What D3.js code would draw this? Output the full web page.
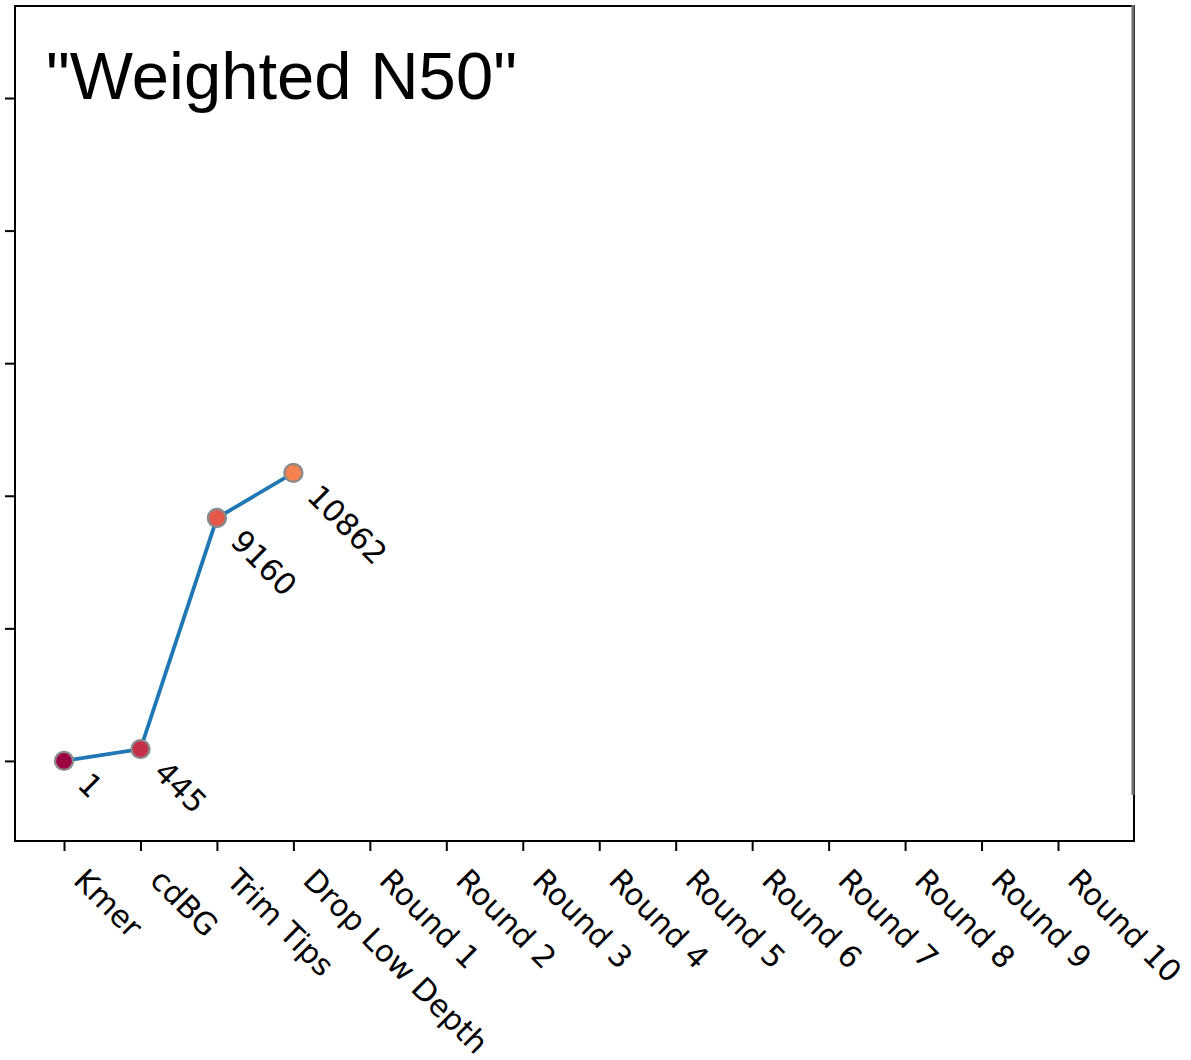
<!DOCTYPE html>
<html>
<head>
<meta charset="utf-8">
<script src="https://cdn.jsdelivr.net/npm/d3@7"></script>
<style>
  html, body { margin: 0; padding: 0; background: #ffffff; }
  svg { display: block; }
</style>
</head>
<body>
<svg id="chart" width="1191" height="1060"></svg>
<script>
// Pipeline stages along the x axis
const categories = ["Kmer", "cdBG", "Trim Tips", "Drop Low Depth",
  "Round 1", "Round 2", "Round 3", "Round 4", "Round 5",
  "Round 6", "Round 7", "Round 8", "Round 9", "Round 10"];
// Weighted N50 per stage (only the first four stages have values)
const n50Values = [1, 445, 9160, 10862];
// Y tick positions
const yTickValues = [0, 5000, 10000, 15000, 20000, 25000];

const W = 1191, H = 1060;
const plot = { left: 15, right: 1134, top: 6, bottom: 841 };

const svg = d3.select("#chart");
svg.append("rect").attr("width", W).attr("height", H).attr("fill", "#ffffff");

const x = d3.scalePoint().domain(categories).range([64, 1058]);
const y = d3.scaleLinear().domain([-3020, 28470]).range([plot.bottom, plot.top]);

// Y axis ticks (labels fall outside the visible area)
const yAxis = svg.append("g")
  .attr("transform", `translate(${plot.left},0)`)
  .call(d3.axisLeft(y).tickValues(yTickValues).tickSize(10).tickSizeOuter(0).tickFormat(""));
yAxis.select(".domain").remove();
yAxis.selectAll(".tick line").attr("stroke", "#000").attr("stroke-width", 2);

// X axis ticks with rotated labels
const xAxis = svg.append("g")
  .attr("transform", `translate(0,${plot.bottom})`)
  .call(d3.axisBottom(x).tickSize(10).tickSizeOuter(0).tickFormat(""));
xAxis.select(".domain").remove();
xAxis.selectAll(".tick line").attr("stroke", "#000").attr("stroke-width", 2);

svg.append("g").selectAll("text")
  .data(categories)
  .join("text")
  .attr("transform", d => `translate(${x(d) + 8},882) rotate(45)`)
  .attr("font-family", "DejaVu Sans, sans-serif")
  .attr("font-size", 30.5)
  .attr("fill", "#000")
  .text(d => d);

// Plot frame
svg.append("rect")
  .attr("x", plot.left).attr("y", plot.top)
  .attr("width", plot.right - plot.left).attr("height", plot.bottom - plot.top)
  .attr("fill", "none").attr("stroke", "#000").attr("stroke-width", 2);
// Grey overlay on the right edge
svg.append("line")
  .attr("x1", plot.right - 1).attr("x2", plot.right - 1)
  .attr("y1", plot.top - 1).attr("y2", 795)
  .attr("stroke", "#6e6e6e").attr("stroke-width", 3);

// Series
const pts = n50Values.map((v, i) => ({ cat: categories[i], v, i }));
const color = i => d3.interpolateSpectral(i / (categories.length - 1));

svg.append("path")
  .datum(pts)
  .attr("fill", "none")
  .attr("stroke", "#1f77b4")
  .attr("stroke-width", 3.8)
  .attr("d", d3.line().x(d => x(d.cat)).y(d => y(d.v)));

svg.append("g").selectAll("circle")
  .data(pts)
  .join("circle")
  .attr("cx", d => x(d.cat))
  .attr("cy", d => y(d.v))
  .attr("r", 9)
  .attr("fill", d => color(d.i))
  .attr("stroke", "#8a8a8a")
  .attr("stroke-width", 2.4);

svg.append("g").selectAll("text")
  .data(pts)
  .join("text")
  .attr("transform", d => `translate(${x(d.cat) + 12},${y(d.v) + 25}) rotate(45)`)
  .attr("font-family", "DejaVu Sans, sans-serif")
  .attr("font-size", 30.5)
  .attr("fill", "#000")
  .text(d => d.v);

// Title
svg.append("text")
  .attr("x", 46).attr("y", 99)
  .attr("font-family", "Liberation Sans, Arial, sans-serif")
  .attr("font-size", 67)
  .attr("fill", "#000")
  .text('"Weighted N50"');
</script>
</body>
</html>
